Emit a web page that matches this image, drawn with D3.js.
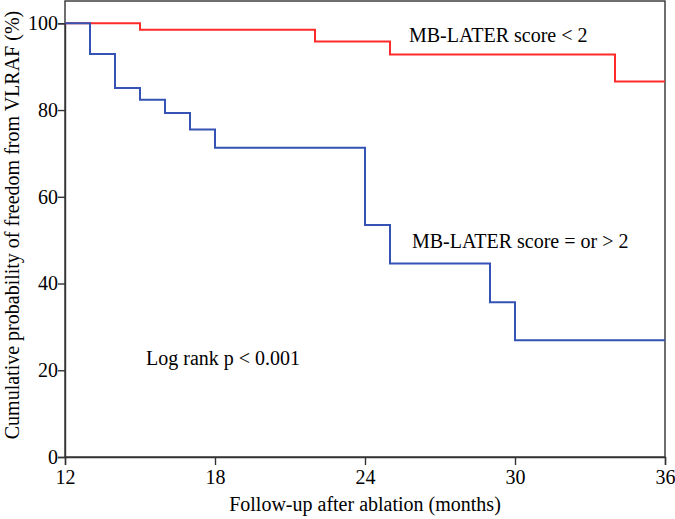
<!DOCTYPE html>
<html><head><meta charset="utf-8">
<script src="https://cdn.jsdelivr.net/npm/d3@7"></script>
<style>
html,body{margin:0;padding:0;background:#fff;}
svg{display:block;}
</style></head>
<body>
<svg id="chart" width="675" height="519"></svg>
<script>
// Data (months, survival %)
const lowTimes = [12, 15, 22, 25, 34, 36];
const lowValues = [100, 98.5, 95.8, 92.8, 86.6, 86.6];
const highTimes = [12, 13, 14, 15, 16, 17, 18, 24, 25, 29, 30, 36];
const highValues = [100, 92.9, 85.1, 82.4, 79.3, 75.5, 71.3, 53.5, 44.6, 35.7, 26.9, 26.9];
const xTicks = [12, 18, 24, 30, 36];
const yTicks = [0, 20, 40, 60, 80, 100];
const labels = ["MB-LATER score < 2", "MB-LATER score = or > 2", "Log rank p < 0.001"];

const FONT = '"Liberation Serif", "Times New Roman", serif';
const svg = d3.select("#chart").attr("font-family", FONT);
const m = {left: 65, top: 1, right: 665, bottom: 457};
const x = d3.scaleLinear().domain([12, 36]).range([m.left, m.right]);
const y = d3.scaleLinear().domain([0, 100]).range([m.bottom, 23.3]);

// frame
svg.append("rect").attr("x", m.left).attr("y", m.top)
  .attr("width", m.right - m.left).attr("height", m.bottom - m.top)
  .attr("fill", "none").attr("stroke", "#333").attr("stroke-width", 1.4);

const xAxis = svg.append("g").attr("transform", `translate(0,${m.bottom})`)
  .call(d3.axisBottom(x).tickValues(xTicks).tickSize(8).tickPadding(5).tickFormat(d3.format("d")));
const yAxis = svg.append("g").attr("transform", `translate(${m.left},0)`)
  .call(d3.axisLeft(y).tickValues(yTicks).tickSize(7).tickPadding(0).tickFormat(d3.format("d")));
[xAxis, yAxis].forEach(g => {
  g.attr("font-family", FONT).attr("font-size", 20);
  g.select(".domain").attr("stroke", "#333").attr("stroke-width", 1.4);
  g.selectAll(".tick line").attr("stroke", "#333").attr("stroke-width", 1.4);
  g.selectAll("text").attr("fill", "#000").attr("font-family", FONT).attr("font-size", 20);
});

const line = d3.line().x(d => x(d[0])).y(d => y(d[1])).curve(d3.curveStepAfter);
svg.append("path").datum(lowTimes.map((t, i) => [t, lowValues[i]]))
  .attr("d", line).attr("fill", "none").attr("stroke", "#ff2a2a").attr("stroke-width", 2);
svg.append("path").datum(highTimes.map((t, i) => [t, highValues[i]]))
  .attr("d", line).attr("fill", "none").attr("stroke", "#3553b4").attr("stroke-width", 2);

const txt = (s, tx, ty, opts = {}) => svg.append("text").attr("x", tx).attr("y", ty)
  .attr("font-size", 20).attr("font-family", FONT).attr("fill", "#000")
  .attr("text-anchor", opts.anchor || "start")
  .attr("transform", opts.rot ? `rotate(-90,${tx},${ty})` : null).text(s);

txt(labels[0], 409, 42);
txt(labels[1], 412, 248);
txt(labels[2], 146, 365);
txt("Follow-up after ablation (months)", 365, 511, {anchor: "middle"});
txt("Cumulative probability of freedom from VLRAF (%)", 19, 225, {anchor: "middle", rot: true});
</script>
</body></html>
